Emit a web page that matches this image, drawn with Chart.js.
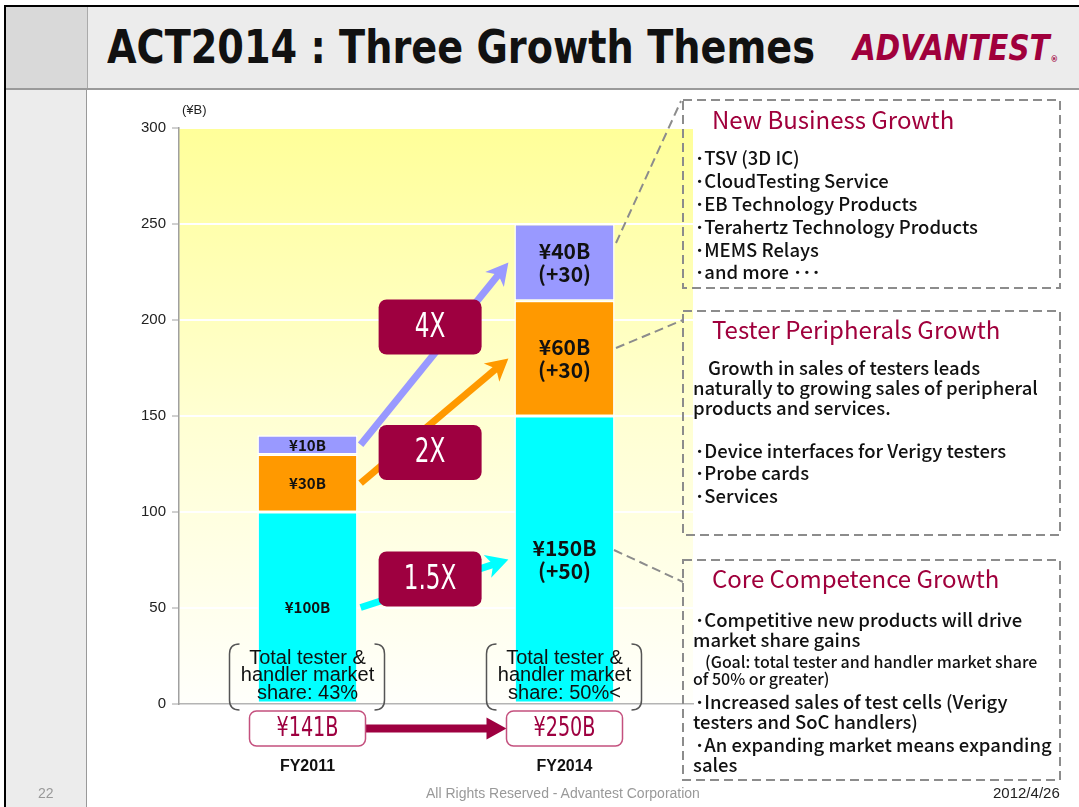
<!DOCTYPE html>
<html lang="en">
<head>
<meta charset="UTF-8">
<title>ACT2014 : Three Growth Themes</title>
<script src="https://cdn.jsdelivr.net/npm/chart.js@4.4.0/dist/chart.umd.min.js"></script>
<style>
  * { box-sizing: border-box; }
  body { margin: 0; width: 1079px; height: 807px; overflow: hidden; background: #fff; position: relative; font-family: "Liberation Sans", Arial, sans-serif; }
  .abs { position: absolute; }
  #title { left: 107px; top: 23px; font: bold 47px/47px "DejaVu Sans Condensed", sans-serif; color: #111; white-space: nowrap; transform-origin: left top; }
  #logo { left: 853px; top: 31px; font: italic 900 35px/35px "DejaVu Sans", sans-serif; color: #a0003c; transform: scaleX(0.84); transform-origin: left top; white-space: nowrap; }
  #logo sup { font-size: 9px; font-style: normal; vertical-align: -2px; margin-left: 1px; }
  .pt { position: absolute; left: 712px; font: 24px/28px "Noto Sans CJK JP", sans-serif; color: #a0003c; white-space: nowrap; }
  .ln { position: absolute; font: 500 18.5px/20px "Noto Sans CJK JP", sans-serif; color: #111; white-space: nowrap; }
  .sm { position: absolute; font: 500 16px/18px "Noto Sans CJK JP", sans-serif; color: #111; white-space: nowrap; }
  .foot { top: 785px; font-size: 14px; line-height: 16px; white-space: nowrap; }
</style>
</head>
<body>

<!-- slide frame -->
<div class="abs" style="left:4px;top:5px;width:1075px;height:2px;background:#000"></div>
<div class="abs" style="left:4px;top:5px;width:2px;height:802px;background:#000"></div>
<div class="abs" style="left:6px;top:7px;width:81px;height:81px;background:#d9d9d9"></div>
<div class="abs" style="left:87px;top:7px;width:992px;height:81px;background:#ececec"></div>
<div class="abs" style="left:6px;top:88px;width:1073px;height:2px;background:#9a9a9a"></div>
<div class="abs" style="left:6px;top:90px;width:81px;height:717px;background:#ececec;border-right:1px solid #999"></div>
<div class="abs" style="left:87px;top:7px;width:1px;height:81px;background:#aaa"></div>

<div id="title" class="abs">ACT2014 : Three Growth Themes</div>
<div id="logo" class="abs">ADVANTEST<sup>®</sup></div>

<canvas id="chart" class="abs" style="left:100px;top:92px" width="600" height="715"></canvas>

<svg class="abs" style="left:0;top:0" width="1079" height="807">
  <g fill="none" stroke="#8c8c8c" stroke-width="2" stroke-dasharray="9 5">
    <rect x="683" y="100" width="377" height="188"/>
    <rect x="683" y="311" width="377" height="224"/>
    <rect x="683" y="560" width="377" height="220"/>
    <line x1="616" y1="243" x2="681" y2="101"/>
    <line x1="616" y1="348" x2="683" y2="320"/>
    <line x1="614" y1="550" x2="683" y2="582"/>
  </g>
</svg>

<!-- New Business Growth -->
<div class="pt" style="top:105px">New Business Growth</div>
<div class="ln" style="left:695px;top:147px">･TSV (3D IC)</div>
<div class="ln" style="left:695px;top:170px">･CloudTesting Service</div>
<div class="ln" style="left:695px;top:193px">･EB Technology Products</div>
<div class="ln" style="left:695px;top:216px">･Terahertz Technology Products</div>
<div class="ln" style="left:695px;top:239px">･MEMS Relays</div>
<div class="ln" style="left:695px;top:261px">･and more ･･･</div>

<!-- Tester Peripherals Growth -->
<div class="pt" style="top:315px">Tester Peripherals Growth</div>
<div class="ln" style="left:708px;top:357px">Growth in sales of testers leads</div>
<div class="ln" style="left:693px;top:377px">naturally to growing sales of peripheral</div>
<div class="ln" style="left:693px;top:397px">products and services.</div>
<div class="ln" style="left:695px;top:440px">･Device interfaces for Verigy testers</div>
<div class="ln" style="left:695px;top:462px">･Probe cards</div>
<div class="ln" style="left:695px;top:485px">･Services</div>

<!-- Core Competence Growth -->
<div class="pt" style="top:564px">Core Competence Growth</div>
<div class="ln" style="left:695px;top:609px">･Competitive new products will drive</div>
<div class="ln" style="left:693px;top:629px">market share gains</div>
<div class="sm" style="left:705px;top:652px">(Goal: total tester and handler market share</div>
<div class="sm" style="left:693px;top:669px">of 50% or greater)</div>
<div class="ln" style="left:695px;top:691px">･Increased sales of test cells (Verigy</div>
<div class="ln" style="left:693px;top:711px">testers and SoC handlers)</div>
<div class="ln" style="left:695px;top:734px">･An expanding market means expanding</div>
<div class="ln" style="left:693px;top:754px">sales</div>

<div class="abs foot" style="left:38px;color:#999">22</div>
<div class="abs foot" style="left:426px;color:#999">All Rights Reserved - Advantest Corporation</div>
<div class="abs foot" style="left:993px;color:#222;font-size:15px">2012/4/26</div>

<script>
const categories = ['FY2011', 'FY2014'];
const coreValues = [100, 150];
const peripheralValues = [30, 60];
const newBizValues = [10, 40];
const coreLabels = [['¥100B'], ['¥150B', '(+50)']];
const peripheralLabels = [['¥30B'], ['¥60B', '(+30)']];
const newBizLabels = [['¥10B'], ['¥40B', '(+30)']];
const growthLabels = ['1.5X', '2X', '4X'];
const totalLabels = ['¥141B', '¥250B'];
const shareLabels = [
    ['Total tester &', 'handler market', 'share: 43%'],
    ['Total tester &', 'handler market', 'share: 50%<']
];

const MAROON = '#9e0040';
const NARROW = '"DejaVu Sans Condensed", sans-serif';

// squeeze the title to the slide's width
const titleEl = document.getElementById('title');
titleEl.style.transform = 'scaleX(' + (708 / titleEl.getBoundingClientRect().width) + ')';

function drawArrow(ctx, x1, y1, x2, y2, color, w, headLen, headHalf, notch) {
    const ang = Math.atan2(y2 - y1, x2 - x1);
    const c = Math.cos(ang), s = Math.sin(ang);
    const bx = x2 - headLen * c, by = y2 - headLen * s;
    ctx.save();
    ctx.strokeStyle = color;
    ctx.lineWidth = w;
    ctx.beginPath();
    ctx.moveTo(x1, y1);
    ctx.lineTo(bx + (notch + 2) * c, by + (notch + 2) * s);
    ctx.stroke();
    ctx.fillStyle = color;
    ctx.beginPath();
    ctx.moveTo(x2, y2);
    ctx.lineTo(bx - headHalf * s, by + headHalf * c);
    ctx.lineTo(bx + notch * c, by + notch * s);
    ctx.lineTo(bx + headHalf * s, by - headHalf * c);
    ctx.closePath();
    ctx.fill();
    ctx.restore();
}

function roundRect(ctx, x, y, w, h, r) {
    ctx.beginPath();
    ctx.moveTo(x + r, y);
    ctx.arcTo(x + w, y, x + w, y + h, r);
    ctx.arcTo(x + w, y + h, x, y + h, r);
    ctx.arcTo(x, y + h, x, y, r);
    ctx.arcTo(x, y, x + w, y, r);
    ctx.closePath();
}

function narrowText(ctx, text, x, y, size, sx) {
    ctx.save();
    ctx.translate(x, y);
    ctx.scale(sx, 1);
    ctx.font = size + 'px ' + NARROW;
    ctx.textAlign = 'center';
    ctx.textBaseline = 'middle';
    ctx.fillText(text, 0, 0);
    ctx.restore();
}

const slideExtras = {
    id: 'slideExtras',
    beforeDraw(chart) {
        const { ctx, chartArea: a } = chart;
        const g = ctx.createLinearGradient(0, a.top, 0, a.bottom);
        g.addColorStop(0, '#ffff99');
        g.addColorStop(0.5, '#ffffd2');
        g.addColorStop(1, '#fffffb');
        ctx.save();
        ctx.fillStyle = g;
        ctx.fillRect(a.left, a.top, a.right - a.left, a.bottom - a.top);
        ctx.fillStyle = '#222';
        ctx.font = '13px "Liberation Sans", sans-serif';
        ctx.textBaseline = 'middle';
        ctx.fillText('(¥B)', a.left + 3, a.top - 18);
        ctx.restore();
    },
    afterDatasetsDraw(chart) {
        const ctx = chart.ctx;
        const bottom = chart.scales.y.getPixelForValue(0);
        const metas = chart.data.datasets.map((d, i) => chart.getDatasetMeta(i));
        const boxOffsets = [-6, 28, -32];

        // growth arrows and multiplier boxes
        metas.forEach((m, i) => {
            const a = m.data[0], b = m.data[1];
            const x1 = a.x + a.width / 2 + 3, y1 = (a.y + a.base) / 2;
            const x2 = b.x - b.width / 2 - 6, y2 = (b.y + b.base) / 2;
            drawArrow(ctx, x1, y1, x2, y2, chart.data.datasets[i].backgroundColor, 7, 22, 12, 6);
        });
        metas.forEach((m, i) => {
            const a = m.data[0], b = m.data[1];
            const x1 = a.x + a.width / 2 + 3, y1 = (a.y + a.base) / 2;
            const x2 = b.x - b.width / 2 - 6, y2 = (b.y + b.base) / 2;
            const bw = 103, bh = 55;
            const bxl = a.x + a.width / 2 + 21;
            const cx = bxl + bw / 2;
            const cy = y1 + (cx - x1) / (x2 - x1) * (y2 - y1) + boxOffsets[i];
            ctx.save();
            roundRect(ctx, bxl, cy - bh / 2, bw, bh, 8);
            ctx.fillStyle = MAROON;
            ctx.fill();
            ctx.fillStyle = '#fff';
            narrowText(ctx, growthLabels[i], cx, cy + 1, 33, 0.78);
            ctx.restore();
        });

        // segment value labels
        ctx.save();
        ctx.fillStyle = '#111';
        ctx.textAlign = 'center';
        ctx.textBaseline = 'middle';
        metas.forEach((m, i) => {
            const labs = chart.data.datasets[i].segLabels;
            m.data.forEach((bar, j) => {
                const lines = labs[j];
                const big = lines.length > 1;
                ctx.font = big ? 'bold 21px "Noto Sans CJK JP", sans-serif' : 'bold 15px "Noto Sans CJK JP", sans-serif';
                const lh = 23;
                const cy = (bar.y + bar.base) / 2 - (lines.length - 1) * lh / 2;
                lines.forEach((t, k) => ctx.fillText(t, bar.x, cy + k * lh));
            });
        });
        ctx.restore();

        // market share notes with bracket shapes
        ctx.save();
        metas[0].data.forEach((bar, j) => {
            ctx.fillStyle = '#111';
            ctx.font = '20px "Liberation Sans", sans-serif';
            ctx.textAlign = 'center';
            ctx.textBaseline = 'middle';
            [46, 28.5, 11].forEach((d, k) => ctx.fillText(shareLabels[j][k], bar.x, bottom - d));
            const top = bottom - 60, bot = bottom + 6, r = 10;
            const xl = bar.x - 78, xr = bar.x + 77;
            ctx.strokeStyle = '#555';
            ctx.lineWidth = 1.5;
            ctx.beginPath();
            ctx.moveTo(xl + r, top);
            ctx.quadraticCurveTo(xl, top, xl, top + r);
            ctx.lineTo(xl, bot - r);
            ctx.quadraticCurveTo(xl, bot, xl + r, bot);
            ctx.moveTo(xr - r, top);
            ctx.quadraticCurveTo(xr, top, xr, top + r);
            ctx.lineTo(xr, bot - r);
            ctx.quadraticCurveTo(xr, bot, xr - r, bot);
            ctx.stroke();
        });
        ctx.restore();
    },
    afterDraw(chart) {
        const ctx = chart.ctx;
        const xs = chart.scales.x;
        const cy = chart.scales.y.getPixelForValue(0) + 24.5;
        const bw = 116, bh = 35;
        const centers = categories.map((c, i) => xs.getPixelForValue(i));
        drawArrow(ctx, centers[0] + bw / 2, cy, centers[1] - bw / 2, cy, MAROON, 8, 20, 11, 0);
        ctx.save();
        centers.forEach((x, i) => {
            roundRect(ctx, x - bw / 2, cy - bh / 2, bw, bh, 7);
            ctx.fillStyle = '#fff';
            ctx.fill();
            ctx.strokeStyle = '#c4507e';
            ctx.lineWidth = 1.5;
            ctx.stroke();
            ctx.fillStyle = MAROON;
            narrowText(ctx, totalLabels[i], x, cy + 1, 26, 0.82);
        });
        ctx.restore();
    }
};

new Chart(document.getElementById('chart').getContext('2d'), {
    type: 'bar',
    data: {
        labels: categories,
        datasets: [
            { label: 'Core Competence', data: coreValues, backgroundColor: '#00ffff', segLabels: coreLabels },
            { label: 'Tester Peripherals', data: peripheralValues, backgroundColor: '#ff9900', segLabels: peripheralLabels },
            { label: 'New Business', data: newBizValues, backgroundColor: '#9999ff', segLabels: newBizLabels }
        ]
    },
    options: {
        responsive: false,
        animation: false,
        layout: { padding: { left: 0, top: 36, right: 7, bottom: 0 } },
        datasets: {
            bar: { barPercentage: 0.39, categoryPercentage: 1, borderColor: '#ffffff', borderWidth: 1.5, borderSkipped: false }
        },
        plugins: { legend: { display: false }, tooltip: { enabled: false } },
        scales: {
            x: {
                stacked: true,
                grid: { display: false, drawTicks: false },
                border: { color: '#b4b4b4', width: 1.5 },
                ticks: { padding: 53, color: '#111', font: { size: 16, weight: 'bold', family: '"Liberation Sans", sans-serif' } },
                afterFit(s) { s.height = 103; }
            },
            y: {
                stacked: true,
                min: 0,
                max: 300,
                ticks: { stepSize: 50, padding: 6, color: '#222', font: { size: 15, family: '"Liberation Sans", sans-serif' } },
                grid: { color: '#ffffff', lineWidth: 2, tickColor: '#a0a0a0', tickLength: 7, tickWidth: 1 },
                border: { color: '#a0a0a0', width: 1.5 },
                afterFit(s) { s.width = 79; }
            }
        }
    },
    plugins: [slideExtras]
});
</script>
</body>
</html>
